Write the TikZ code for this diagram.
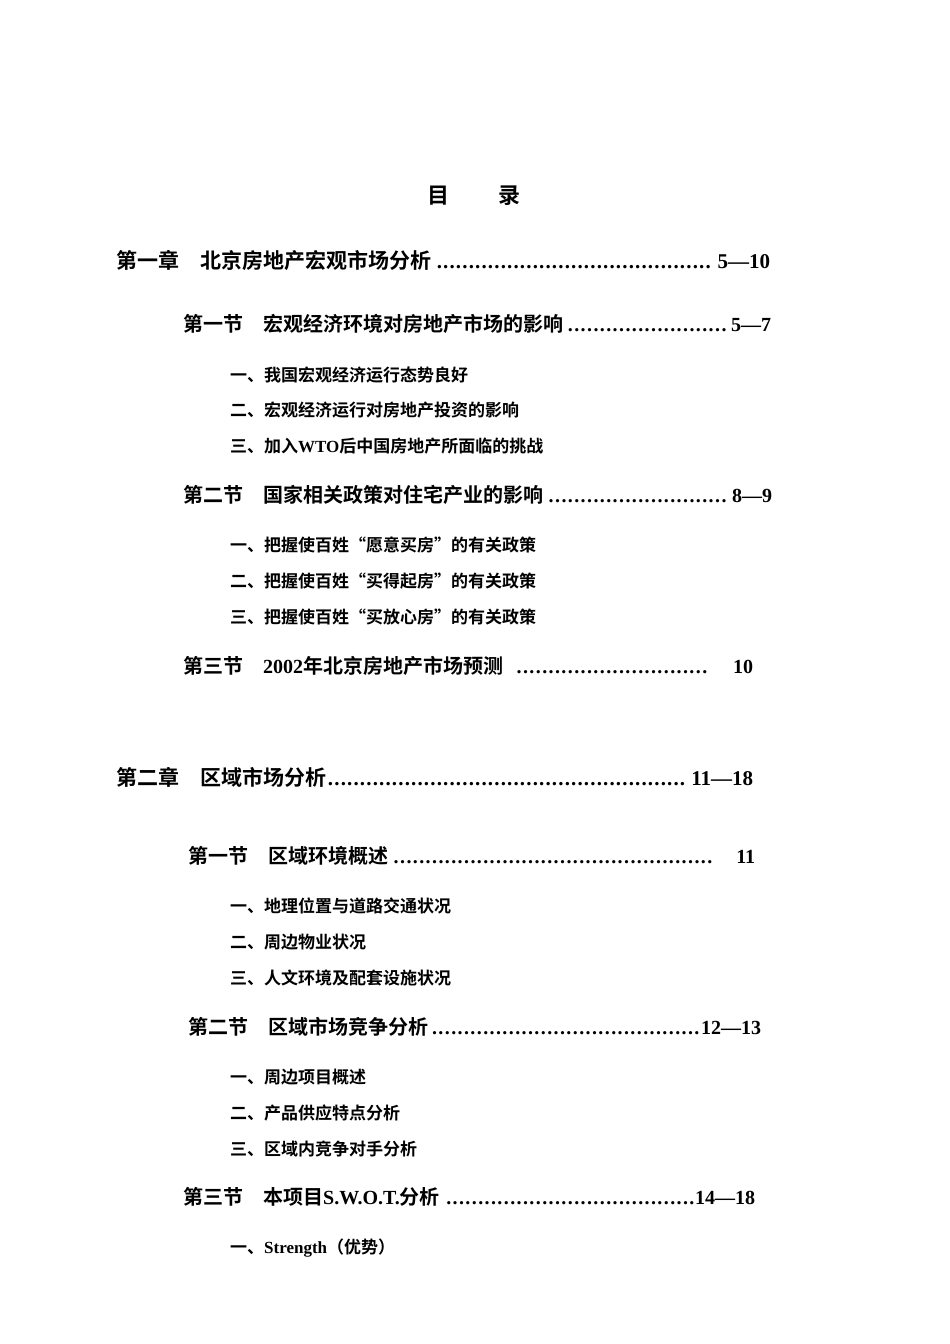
\documentclass[tikz,border=0pt]{standalone}
\usepackage{fontspec}
\setmainfont{Liberation Serif}
\newfontfamily\cjk{Noto Sans CJK SC}[BoldFont={Noto Sans CJK SC Bold}]
\newcommand{\lat}[1]{{\rmfamily\bfseries #1}}
\newcommand{\dotsleader}{\leaders\hbox to 6.4pt{\hss\rmfamily\bfseries .\hss}\hfill}
\newcommand{\tocline}[6]{\node[tl,anchor=west,font=#6] (#1) at (#2) {\hbox to #3{#4\dotsleader #5}};}
\begin{document}
\begin{tikzpicture}[x=1pt,y=-1pt,tl/.style={inner sep=0pt},it/.style={inner sep=0pt,anchor=west,font=\cjk\bfseries\fontsize{17}{17}\selectfont}]
\useasboundingbox[fill=white] (0,0) rectangle (950,1344);
\node[tl,font=\cjk\bfseries\fontsize{22}{22}\selectfont] (title) at (474,196) {目\hspace{2.2em}录};
\tocline{c1}{116,261}{654pt}{第一章\hspace{1em}北京房地产宏观市场分析}{\lat{5—10}}{\cjk\bfseries\fontsize{21}{21}\selectfont}
\tocline{s11}{183,324}{588pt}{第一节\hspace{1em}宏观经济环境对房地产市场的影响}{\lat{5—7}}{\cjk\bfseries\fontsize{20}{20}\selectfont}
\node[it] (i111) at (230,375) {一、我国宏观经济运行态势良好};
\node[it] (i112) at (230,410) {二、宏观经济运行对房地产投资的影响};
\node[it] (i113) at (230,446) {三、加入\lat{WTO}后中国房地产所面临的挑战};
\tocline{s12}{183,495}{589pt}{第二节\hspace{1em}国家相关政策对住宅产业的影响}{\lat{8—9}}{\cjk\bfseries\fontsize{20}{20}\selectfont}
\node[it] (i121) at (230,545) {一、把握使百姓“愿意买房”的有关政策};
\node[it] (i122) at (230,581) {二、把握使百姓“买得起房”的有关政策};
\node[it] (i123) at (230,617) {三、把握使百姓“买放心房”的有关政策};
\tocline{s13}{183,666}{570pt}{第三节\hspace{1em}\lat{2002}年北京房地产市场预测\hspace{0.4em}}{\hspace{1.2em}\lat{10}}{\cjk\bfseries\fontsize{20}{20}\selectfont}
\tocline{c2}{116,777}{637pt}{第二章\hspace{1em}区域市场分析}{\lat{11—18}}{\cjk\bfseries\fontsize{21}{21}\selectfont}
\tocline{s21}{188,856}{567pt}{第一节\hspace{1em}区域环境概述}{\hspace{1em}\lat{11}}{\cjk\bfseries\fontsize{20}{20}\selectfont}
\node[it] (i211) at (230,906) {一、地理位置与道路交通状况};
\node[it] (i212) at (230,942) {二、周边物业状况};
\node[it] (i213) at (230,978) {三、人文环境及配套设施状况};
\tocline{s22}{188,1027}{573pt}{第二节\hspace{1em}区域市场竞争分析}{\lat{12—13}}{\cjk\bfseries\fontsize{20}{20}\selectfont}
\node[it] (i221) at (230,1077) {一、周边项目概述};
\node[it] (i222) at (230,1113) {二、产品供应特点分析};
\node[it] (i223) at (230,1149) {三、区域内竞争对手分析};
\tocline{s23}{183,1197}{572pt}{第三节\hspace{1em}本项目\lat{S.W.O.T.}分析}{\lat{14—18}}{\cjk\bfseries\fontsize{20}{20}\selectfont}
\node[it] (i231) at (230,1248) {一、\lat{Strength}（优势）};
\end{tikzpicture}
\end{document}
